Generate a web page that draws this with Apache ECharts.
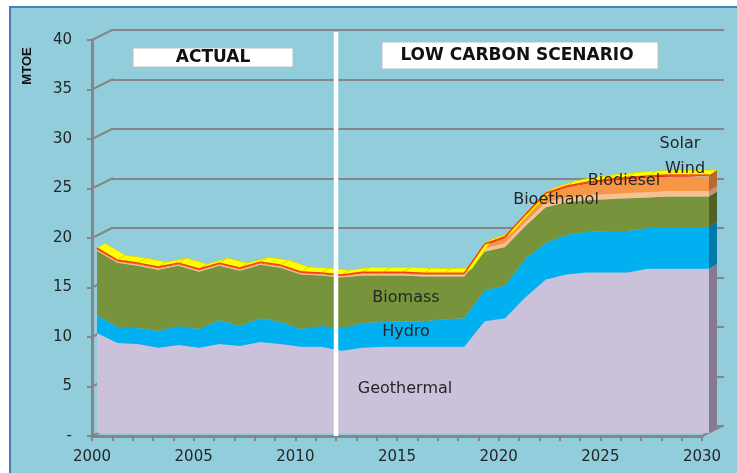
<!DOCTYPE html>
<html><head><meta charset="utf-8">
<script src="https://cdn.jsdelivr.net/npm/echarts@6/dist/echarts.min.js"></script>
<style>html,body{margin:0;padding:0;background:#fff}#c{width:737px;height:473px}</style>
</head><body><div id="c"></div>
<script>
// ---- data (MTOE) ----
const years = ['2000','2001','2002','2003','2004','2005','2006','2007','2008','2009','2010',
  '2011','2012','2013','2014','2015','2016','2017','2018','2019','2020',
  '2021','2022','2023','2024','2025','2026','2027','2028','2029','2030'];
const geothermal = [10.1,9.1,9.0,8.6,8.9,8.6,9.0,8.8,9.2,9.0,8.7,8.7,8.3,8.6,8.7,8.7,8.7,8.7,8.7,11.3,11.6,13.7,15.5,16.0,16.2,16.2,16.2,16.6,16.6,16.6,16.6];
const hydro      = [1.8,1.6,1.6,1.7,1.9,1.9,2.4,2.0,2.4,2.2,1.8,2.1,2.3,2.5,2.5,2.6,2.6,2.8,2.9,3.1,3.3,3.9,3.7,4.0,4.1,4.2,4.2,4.1,4.2,4.2,4.2];
const biomass    = [6.5,6.5,6.3,6.2,6.1,5.8,5.5,5.6,5.4,5.5,5.5,5.1,5.1,4.8,4.7,4.6,4.5,4.3,4.2,3.9,3.9,3.3,3.6,3.3,3.2,3.2,3.3,3.1,3.1,3.1,3.1];
const bioethanol = [0.1,0.1,0.1,0.1,0.1,0.1,0.1,0.1,0.1,0.1,0.1,0.1,0.1,0.15,0.15,0.15,0.15,0.15,0.15,0.35,0.4,0.45,0.5,0.5,0.55,0.55,0.55,0.55,0.55,0.55,0.55];
const biodiesel  = [0.08,0.08,0.08,0.08,0.08,0.08,0.08,0.08,0.08,0.08,0.08,0.08,0.08,0.1,0.1,0.1,0.1,0.1,0.1,0.3,0.5,0.6,0.8,1.0,1.15,1.3,1.4,1.45,1.45,1.45,1.45];
const wind       = [0.05,0.05,0.05,0.05,0.05,0.05,0.05,0.05,0.05,0.05,0.05,0.05,0.05,0.05,0.05,0.05,0.05,0.05,0.05,0.08,0.08,0.08,0.08,0.08,0.08,0.1,0.1,0.1,0.1,0.1,0.1];
const solar      = [0.03,0.03,0.03,0.03,0.03,0.03,0.03,0.03,0.03,0.03,0.03,0.03,0.03,0.03,0.03,0.03,0.03,0.03,0.03,0.05,0.05,0.05,0.05,0.05,0.05,0.05,0.05,0.05,0.05,0.05,0.05];
const seriesNames = ['Geothermal','Hydro','Biomass','Bioethanol','Biodiesel','Wind','Solar'];
const yTicks = [0,5,10,15,20,25,30,35,40];
const dividerYear = '2012';
const periodLabels = ['ACTUAL','LOW CARBON SCENARIO'];

// ---- styles ----
const colors = ['#CCC1DA','#00B0F0','#77933C','#FAC090','#F79646','#FF0000','#FFFF00'];
const sideColors = ['#857A93','#0079A6','#4E6127','#C3956E','#B96A2E','#B00000','#D4D400'];
const D = [8,-5];
const FONT = 'DejaVu Sans';

const layers = [geothermal,hydro,biomass,bioethanol,biodiesel,wind,solar];
const cum = layers.map((_,k)=>years.map((_,i)=>layers.slice(0,k+1).reduce((s,a)=>s+a[i],0)));
const totals = cum[cum.length-1];
const last = years.length-1;
const topFaceData = years.slice(0,-1).map((y,i)=>[i,totals[i],i+1,totals[i+1]]);
const sideData = layers.map((a,k)=>[last, k===0?0:cum[k-1][last], cum[k][last], k]);
const connData = yTicks.map(v=>[0,v]).concat([[last,0]]);
const dividerIdx = years.indexOf(dividerYear);

const chart = echarts.init(document.getElementById('c'));
const off = (p)=>[p[0]+D[0],p[1]+D[1]];

const lineSeries = layers.map((arr,k)=>({
  name: seriesNames[k], type:'line', stack:'total', xAxisIndex:1, yAxisIndex:1,
  data: arr, symbol:'none', showSymbol:false, silent:true, z:3,
  lineStyle:{width:0}, areaStyle:{color:colors[k], opacity:1}
}));

chart.setOption({
  animation:false,
  backgroundColor:'#ffffff',
  grid:[
    {left:112,right:13,top:30,bottom:47},
    {left:97,right:28,top:37,bottom:40},
    {left:92,right:35,top:40,bottom:37}
  ],
  xAxis:[
    {gridIndex:0,type:'category',data:years,boundaryGap:false,show:false},
    {gridIndex:1,type:'category',data:years,boundaryGap:false,show:false},
    {gridIndex:2,type:'category',data:years,boundaryGap:false,
      axisLine:{lineStyle:{color:'#868686',width:3}},
      axisTick:{show:true,interval:0,length:5,lineStyle:{color:'#868686',width:2}},
      axisLabel:{interval:4,color:'#262626',fontFamily:FONT,fontSize:15,margin:14},
      splitLine:{show:false}}
  ],
  yAxis:[
    {gridIndex:0,type:'value',min:0,max:40,interval:5,axisLine:{show:false},axisTick:{show:false},axisLabel:{show:false},
      splitLine:{show:true,lineStyle:{color:'#868686',width:2}}},
    {gridIndex:1,type:'value',min:0,max:40,interval:5,show:false,splitLine:{show:false}},
    {gridIndex:2,type:'value',min:0,max:40,interval:5,
      axisLine:{show:true,lineStyle:{color:'#868686',width:3}},
      axisTick:{show:true,length:5,lineStyle:{color:'#868686',width:2}},
      axisLabel:{color:'#262626',fontFamily:FONT,fontSize:15,margin:20,formatter:v=>v===0?'-':String(v)},
      splitLine:{show:false}}
  ],
  series: [
    {type:'custom',xAxisIndex:2,yAxisIndex:2,z:1,silent:true,clip:false,data:connData,encode:{x:0,y:1},
      renderItem:(params,api)=>{
        const p=api.coord([api.value(0),api.value(1)]);
        return {type:'line',shape:{x1:p[0],y1:p[1],x2:p[0]+21,y2:p[1]-10.5},style:{stroke:'#868686',lineWidth:2}};
      }}
  ].concat(lineSeries).concat([
    {type:'custom',xAxisIndex:1,yAxisIndex:1,z:4,silent:true,clip:false,data:sideData,encode:{x:0,y:2},
      renderItem:(params,api)=>{
        const pb=api.coord([api.value(0),api.value(1)]);
        const pt=api.coord([api.value(0),api.value(2)]);
        return {type:'polygon',shape:{points:[pb,pt,off(pt),off(pb)]},style:{fill:sideColors[api.value(3)]}};
      }},
    {type:'custom',xAxisIndex:1,yAxisIndex:1,z:5,silent:true,clip:false,data:topFaceData,encode:{x:0,y:1},
      renderItem:(params,api)=>{
        const p1=api.coord([api.value(0),api.value(1)]);
        const p2=api.coord([api.value(2),api.value(3)]);
        return {type:'group',children:[
          {type:'polygon',shape:{points:[p1,p2,off(p2),off(p1)]},style:{fill:'#FFFF00',stroke:'#D6D600',lineWidth:0.8}},
          {type:'line',shape:{x1:p1[0],y1:p1[1],x2:p2[0],y2:p2[1]},style:{stroke:'#FF3C00',lineWidth:1.5}}
        ]};
      }},
    {type:'custom',xAxisIndex:2,yAxisIndex:2,z:10,silent:true,clip:false,data:[[dividerIdx,0,40]],encode:{x:0,y:1},
      renderItem:(params,api)=>{
        const pb=api.coord([api.value(0),api.value(1)]);
        const pt=api.coord([api.value(0),api.value(2)]);
        return {type:'line',shape:{x1:pb[0],y1:pb[1],x2:pt[0],y2:pt[1]-8},style:{stroke:'#FFFFFF',lineWidth:4.5}};
      }}
  ]),
  graphic:[
    {type:'rect',z:-100,silent:true,shape:{x:10,y:7,width:740,height:480},style:{fill:'#92CDDC',stroke:'#4A7EBB',lineWidth:2}},
    {type:'text',x:27,y:66,rotation:Math.PI/2,z:100,style:{text:'MTOE',x:0,y:0,align:'center',verticalAlign:'middle',font:'bold 13px "Liberation Sans"',fill:'#111'}},
    {type:'rect',z:100,shape:{x:133,y:48,width:160,height:19},style:{fill:'#fff',stroke:'#BFBFBF',lineWidth:1}},
    {type:'text',z:101,x:213,y:58,style:{text:periodLabels[0],align:'center',verticalAlign:'middle',font:'bold 17px "DejaVu Sans"',fill:'#111'}},
    {type:'rect',z:100,shape:{x:382,y:42,width:276,height:27},style:{fill:'#fff',stroke:'#BFBFBF',lineWidth:1}},
    {type:'text',z:101,x:517,y:56,style:{text:periodLabels[1],align:'center',verticalAlign:'middle',font:'bold 17px "DejaVu Sans"',fill:'#111'}},
    {type:'text',z:101,x:405,y:389,style:{text:seriesNames[0],align:'center',verticalAlign:'middle',font:'16px "DejaVu Sans"',fill:'#262626'}},
    {type:'text',z:101,x:406,y:332,style:{text:seriesNames[1],align:'center',verticalAlign:'middle',font:'16px "DejaVu Sans"',fill:'#262626'}},
    {type:'text',z:101,x:406,y:298,style:{text:seriesNames[2],align:'center',verticalAlign:'middle',font:'16px "DejaVu Sans"',fill:'#262626'}},
    {type:'text',z:101,x:556,y:200,style:{text:seriesNames[3],align:'center',verticalAlign:'middle',font:'16px "DejaVu Sans"',fill:'#262626'}},
    {type:'text',z:101,x:624,y:181,style:{text:seriesNames[4],align:'center',verticalAlign:'middle',font:'16px "DejaVu Sans"',fill:'#262626'}},
    {type:'text',z:101,x:685,y:169,style:{text:seriesNames[5],align:'center',verticalAlign:'middle',font:'16px "DejaVu Sans"',fill:'#262626'}},
    {type:'text',z:101,x:680,y:144,style:{text:seriesNames[6],align:'center',verticalAlign:'middle',font:'16px "DejaVu Sans"',fill:'#262626'}}
  ]
});
</script></body></html>
